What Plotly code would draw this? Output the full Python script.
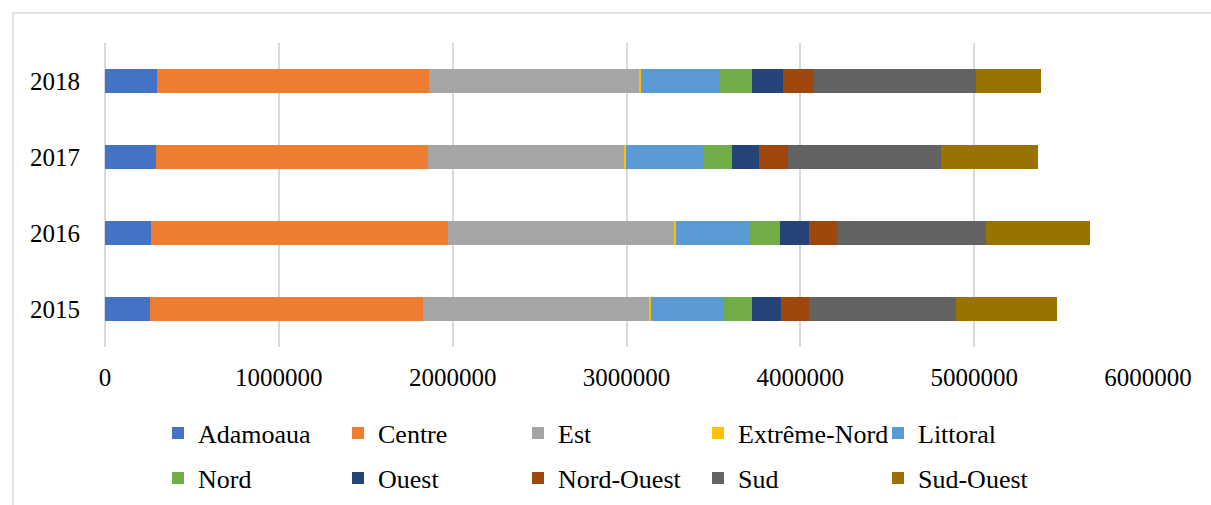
import plotly.graph_objects as go

# Years shown on the category axis (bottom to top)
years = ["2015", "2016", "2017", "2018"]

# Regional values per year, in the same order as `years`
adamaoua = [260000, 267000, 293000, 300000]
centre = [1567000, 1708000, 1565000, 1561000]
est = [1306000, 1299000, 1129000, 1211000]
extreme_nord = [9000, 11000, 11000, 10000]
littoral = [421000, 428000, 440000, 457000]
nord = [160000, 171000, 170000, 181000]
ouest = [165000, 168000, 155000, 178000]
nord_ouest = [164000, 161000, 168000, 179000]
sud = [841000, 857000, 881000, 931000]
sud_ouest = [585000, 595000, 558000, 376000]

x_ticks = [0, 1000000, 2000000, 3000000, 4000000, 5000000, 6000000]

series = [
    ("Adamoaua", adamaoua, "#4472C4", "legend"),
    ("Centre", centre, "#ED7D31", "legend"),
    ("Est", est, "#A5A5A5", "legend"),
    ("Extrême-Nord", extreme_nord, "#FFC000", "legend"),
    ("Littoral", littoral, "#5B9BD5", "legend"),
    ("Nord", nord, "#70AD47", "legend2"),
    ("Ouest", ouest, "#264478", "legend2"),
    ("Nord-Ouest", nord_ouest, "#9E480E", "legend2"),
    ("Sud", sud, "#636363", "legend2"),
    ("Sud-Ouest", sud_ouest, "#997300", "legend2"),
]

FONT = "Liberation Serif, Times New Roman, serif"

fig = go.Figure()
for name, vals, color, leg in series:
    fig.add_trace(go.Bar(
        y=years, x=vals, name=name, orientation="h",
        marker=dict(color=color, line=dict(width=0)),
        legend=leg,
    ))

legend_style = dict(
    orientation="h",
    xref="container", yref="container",
    xanchor="left", yanchor="middle",
    entrywidth=135, entrywidthmode="pixels",
    font=dict(family=FONT, size=26, color="#000000"),
    bgcolor="rgba(0,0,0,0)",
    itemclick=False, itemdoubleclick=False,
    traceorder="normal",
)

W, H = 1211, 505

fig.update_layout(
    width=W, height=H,
    barmode="stack",
    bargap=0.685,
    plot_bgcolor="white",
    paper_bgcolor="white",
    font=dict(family=FONT, size=25, color="#000000"),
    margin=dict(l=105, r=63, t=43, b=158, autoexpand=False),
    xaxis=dict(
        range=[0, 6000000],
        tickvals=x_ticks,
        ticktext=[str(v) for v in x_ticks],
        showgrid=True, gridcolor="#D9D9D9", gridwidth=1.5,
        zeroline=True, zerolinecolor="#D9D9D9", zerolinewidth=1.5,
        showline=False,
        ticks="", ticklabelstandoff=13,
        tickfont=dict(family=FONT, size=25, color="#000000"),
        fixedrange=True,
    ),
    yaxis=dict(
        type="category",
        categoryorder="array", categoryarray=years,
        showgrid=False, showline=False, zeroline=False,
        ticks="", ticklabelstandoff=24,
        tickfont=dict(family=FONT, size=25, color="#000000"),
        fixedrange=True,
    ),
    legend=dict(legend_style, x=158 / W, y=1 - 433 / H),
    legend2=dict(legend_style, x=158 / W, y=1 - 478 / H),
    showlegend=True,
)

# Light outer frame around the chart area
fig.add_shape(
    type="rect", xref="paper", yref="paper",
    x0=(13 - 105) / (1148 - 105), x1=(1215 - 105) / (1148 - 105),
    y0=(347 - 510) / 304, y1=(347 - 13) / 304,
    line=dict(color="#D9D9D9", width=1.5),
    fillcolor="rgba(0,0,0,0)", layer="below",
)

fig.write_html("out.html")
